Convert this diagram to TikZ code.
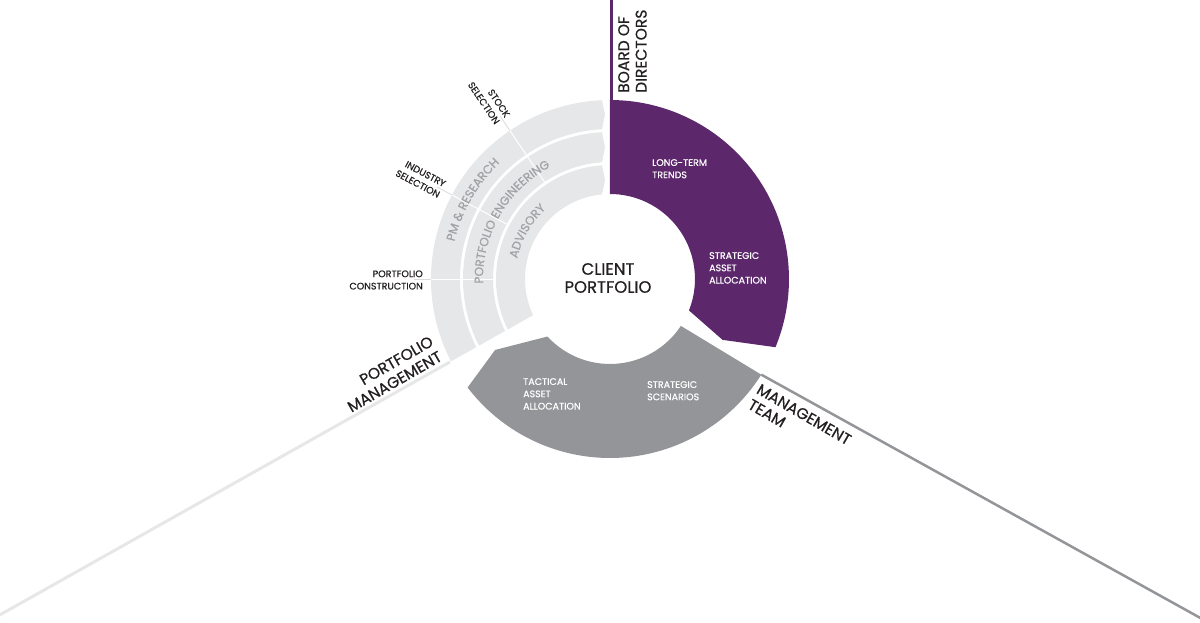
\documentclass[tikz,border=0pt]{standalone}
\usepackage{fontspec}
\setmainfont{Poppins}[FakeBold=0.6]
\usetikzlibrary{decorations.text}

\newcommand{\ringFont}{\fontsize{12}{14}\selectfont}

\begin{document}
\begin{tikzpicture}[x=1pt, y=1pt,
    bigLabel/.style={font=\fontsize{15.5}{17.5}\selectfont, text=labelColour, inner sep=0pt, align=left},
    smallLabel/.style={font=\fontsize{9.5}{12.3}\selectfont, inner sep=0pt, align=left}]
    % Define colours
    \definecolor{boardColour}{HTML}{5C276B}
    \definecolor{teamColour}{HTML}{939598}
    \definecolor{ringColour}{HTML}{E6E7E8}
    \definecolor{ringTextColour}{HTML}{A0A2A5}
    \definecolor{leaderColour}{HTML}{D9DADB}
    \definecolor{labelColour}{HTML}{231F20}

    % Define radii
    \def\innerRadius{85}
    \def\outerRadius{179}

    % Fix the picture size
    \useasboundingbox (-610,-343) rectangle (590,279);

    % Draw the portfolio management rings
    \begin{scope}
        \clip (-400,{-400*0.562+7}) -- (40,{40*0.562+7}) -- (40,260) -- (-400,260) -- cycle;
        \foreach \ri/\ro in {150/179, 117/147, 85/114} {
            \pgfmathsetmacro{\rmid}{(\ri+\ro)/2}
            \fill[ringColour] (215:\ro) arc[start angle=215, end angle={90+asin(8/\ro)}, radius=\ro]
                -- ({90+asin(5/\rmid)}:\rmid) -- ({90+asin(8/\ri)}:\ri)
                arc[start angle={90+asin(8/\ri)}, end angle=215, radius=\ri] -- cycle;
        }
    \end{scope}

    % Draw the leaders and the white cuts
    \foreach \a in {124, 152, 180} {
        \draw[leaderColour, line width=0.8pt] (\a:179) -- (\a:196);
        \draw[white, line width=1pt] (\a:117) -- (\a:179);
    }

    % Draw the board sector
    \fill[boardColour] (90:\innerRadius) -- (90:\outerRadius)
        arc[start angle=90, end angle=-22.4, radius=\outerRadius]
        -- (-28.4:128) -- (-21.7:\innerRadius)
        arc[start angle=-21.7, end angle=90, radius=\innerRadius] -- cycle;

    % Draw the management team sector
    \fill[teamColour] (-33.5:\innerRadius) -- (-32.3:\outerRadius)
        arc[start angle=-32.3, end angle=-142.7, radius=\outerRadius]
        -- (-148.3:135) -- (-137.4:\innerRadius)
        arc[start angle=-137.4, end angle=-33.5, radius=\innerRadius] -- cycle;

    % Draw the three dividing lines
    \coordinate (boardEnd) at (1.5,280);
    \coordinate (teamEnd) at (600,-344.3);
    \coordinate (pmStart) at (-160,{-160*0.562+7});
    \coordinate (pmEnd) at (-620,{-620*0.562+7});
    \draw[boardColour, line width=3pt] (1.5,179) -- (boardEnd);
    \draw[teamColour, line width=2.5pt] (-32.3:\outerRadius) -- (teamEnd);
    \draw[ringColour, line width=3pt] (pmStart) -- (pmEnd);

    % Label the rings
    \path[decorate, decoration={text along path, text align=center, text color=ringTextColour,
        text={|\ringFont|PM {\&} RESEARCH}}] (210:160) arc[start angle=210, end angle=90, radius=160];
    \path[decorate, decoration={text along path, text align=center, text color=ringTextColour,
        text={|\ringFont|PORTFOLIO ENGINEERING}}] (215:127) arc[start angle=215, end angle=85, radius=127];
    \path[decorate, decoration={text along path, text align=center, text color=ringTextColour,
        text={|\ringFont|ADVISORY}}] (210:95) arc[start angle=210, end angle=90, radius=95];

    % Label the sectors
    \node[font=\fontsize{16.5}{18}\selectfont, align=center, text=labelColour, inner sep=0pt] (client) at (-2,1) {CLIENT\\PORTFOLIO};
    \node[smallLabel, text=white, anchor=north west] (trends) at (42,120) {LONG-TERM\\TRENDS};
    \node[smallLabel, text=white, anchor=north west] (allocation) at (99,27) {STRATEGIC\\ASSET\\ALLOCATION};
    \node[smallLabel, text=white, anchor=north west] (tactical) at (-87,-99) {TACTICAL\\ASSET\\ALLOCATION};
    \node[smallLabel, text=white, anchor=north west] (scenarios) at (37,-102) {STRATEGIC\\SCENARIOS};

    % Label the three teams
    \node[bigLabel, rotate=90, anchor=north west] (board) at (8,186) {BOARD OF\\DIRECTORS};
    \node[bigLabel, rotate=-30, anchor=north west] (team) at (151,-104) {MANAGEMENT\\TEAM};
    \node[bigLabel, rotate=30, anchor=north east, align=right] (pm) at (-181,-56) {PORTFOLIO\\MANAGEMENT};

    % Label the leaders
    \node[smallLabel, text=labelColour, anchor=east, align=right] (construction) at (-187,-1) {PORTFOLIO\\CONSTRUCTION};
    \node[smallLabel, text=labelColour, anchor=east, align=right, rotate=-28] (industry) at (152:190) {INDUSTRY\\SELECTION};
    \node[smallLabel, text=labelColour, anchor=east, align=right, rotate=-56] (stock) at (124:192) {STOCK\\SELECTION};
\end{tikzpicture}
\end{document}
